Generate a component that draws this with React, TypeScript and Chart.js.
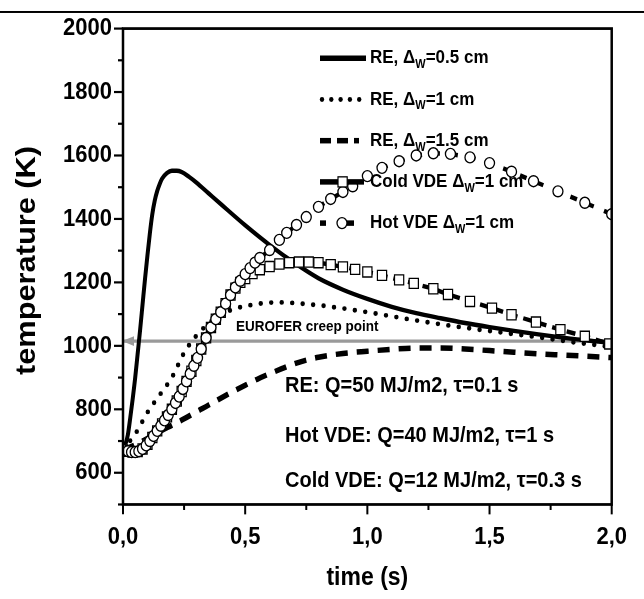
import React, { useEffect, useRef } from "react";
import { Chart, registerables } from "chart.js";

Chart.register(...registerables);

const W = 644;
const H = 599;
const LOGICAL_H = 545;
const FONT = "'Liberation Sans', Arial, Helvetica, sans-serif";

const xTickValues = [0, 0.5, 1, 1.5, 2];
const yTickValues = [600, 800, 1000, 1200, 1400, 1600, 1800, 2000];

const re05Time = [0, 0.01, 0.02, 0.03, 0.04, 0.05, 0.06, 0.07, 0.08, 0.09, 0.1, 0.11, 0.12, 0.13, 0.14, 0.15, 0.16, 0.18, 0.2, 0.22, 0.24, 0.27, 0.3, 0.35, 0.4, 0.5, 0.6, 0.7, 0.8, 0.9, 1.0, 1.1, 1.2, 1.3, 1.4, 1.5, 1.6, 1.7, 1.8, 1.9, 2.0];
const re05Temp = [675, 690, 720, 775, 835, 900, 975, 1050, 1130, 1210, 1285, 1355, 1415, 1458, 1488, 1510, 1527, 1545, 1552, 1552, 1548, 1533, 1515, 1481, 1447, 1380, 1318, 1262, 1213, 1177, 1148, 1123, 1103, 1087, 1072, 1059, 1047, 1036, 1026, 1017, 1010];

const re10Time = [0, 0.05, 0.1, 0.15, 0.2, 0.25, 0.3, 0.35, 0.4, 0.45, 0.5, 0.55, 0.6, 0.65, 0.7, 0.8, 0.9, 1.0, 1.1, 1.2, 1.3, 1.4, 1.5, 1.6, 1.7, 1.8, 1.9, 2.0];
const re10Temp = [675, 722, 790, 845, 900, 978, 1032, 1070, 1098, 1115, 1125, 1132, 1136, 1137, 1135, 1128, 1118, 1106, 1093, 1080, 1068, 1057, 1047, 1037, 1027, 1016, 1006, 996];

const re15Time = [0, 0.05, 0.1, 0.15, 0.2, 0.25, 0.3, 0.35, 0.4, 0.45, 0.5, 0.55, 0.6, 0.65, 0.7, 0.75, 0.8, 0.9, 1.0, 1.1, 1.2, 1.3, 1.4, 1.5, 1.6, 1.7, 1.8, 1.9, 2.0];
const re15Temp = [672, 688, 708, 730, 750, 770, 792, 813, 835, 856, 876, 895, 912, 928, 943, 955, 964, 976, 983, 989, 993, 993, 990, 985, 980, 975, 971, 967, 963];

const coldTime = [0, 0.02, 0.04, 0.06, 0.08, 0.1, 0.12, 0.14, 0.16, 0.18, 0.2, 0.22, 0.24, 0.26, 0.28, 0.3, 0.32, 0.34, 0.36, 0.38, 0.4, 0.42, 0.44, 0.46, 0.48, 0.5, 0.53, 0.56, 0.6, 0.64, 0.68, 0.72, 0.76, 0.8, 0.85, 0.9, 0.95, 1.0, 1.06, 1.13, 1.19, 1.27, 1.33, 1.42, 1.51, 1.59, 1.69, 1.79, 1.89, 1.99];
const coldTemp = [672, 668, 665, 667, 675, 690, 711, 732, 754, 776, 800, 826, 856, 888, 920, 954, 990, 1025, 1058, 1084, 1106, 1133, 1160, 1182, 1200, 1212, 1228, 1240, 1250, 1258, 1262, 1264, 1264, 1262, 1256, 1249, 1241, 1233, 1222, 1208, 1197, 1180, 1162, 1140, 1119, 1098, 1075, 1051, 1030, 1006];

const hotTime = [0, 0.02, 0.035, 0.05, 0.065, 0.08, 0.095, 0.11, 0.125, 0.14, 0.155, 0.17, 0.185, 0.2, 0.215, 0.23, 0.245, 0.26, 0.275, 0.29, 0.305, 0.32, 0.34, 0.36, 0.38, 0.4, 0.42, 0.44, 0.46, 0.48, 0.5, 0.52, 0.54, 0.56, 0.6, 0.64, 0.67, 0.71, 0.75, 0.8, 0.85, 0.9, 0.94, 1.0, 1.06, 1.13, 1.2, 1.27, 1.34, 1.42, 1.5, 1.59, 1.68, 1.78, 1.89, 2.0];
const hotTemp = [672, 668, 665, 665, 668, 675, 686, 700, 716, 732, 748, 765, 782, 800, 820, 840, 864, 888, 912, 937, 962, 990, 1025, 1058, 1084, 1106, 1133, 1160, 1184, 1205, 1226, 1245, 1262, 1277, 1302, 1334, 1356, 1381, 1406, 1438, 1463, 1485, 1503, 1535, 1561, 1582, 1600, 1607, 1605, 1594, 1576, 1549, 1519, 1487, 1451, 1415];

const euroferTime = [0, 2];
const euroferTemp = [1015, 1015];

const legendItems = [
  { pre: "RE, Δ", sub: "W", post: "=0.5 cm" },
  { pre: "RE, Δ", sub: "W", post: "=1 cm" },
  { pre: "RE, Δ", sub: "W", post: "=1.5 cm" },
  { pre: "Cold VDE Δ", sub: "W", post: "=1 cm" },
  { pre: "Hot VDE Δ", sub: "W", post: "=1 cm" },
];
const noteLines = ["RE: Q=50 MJ/m2, τ=0.1 s", "Hot VDE: Q=40 MJ/m2, τ=1 s", "Cold VDE: Q=12 MJ/m2, τ=0.3 s"];
const euroferLabel = "EUROFER creep point";
const xTitle = "time (s)";
const yTitle = "temperature (K)";

const toXY = (xs: number[], ys: number[]) => xs.map((x, i) => ({ x, y: ys[i] }));

const stretchPlugin = {
  id: "stretch",
  beforeDraw(chart: any) {
    const s = chart.canvas.height / chart.height;
    chart.ctx.setTransform(1, 0, 0, s, 0, 0);
  },
};

const decorPlugin = {
  id: "decor",
  afterDraw(chart: any) {
    const ctx = chart.ctx;
    const { left, right, top, bottom } = chart.chartArea;
    const xs = chart.scales.x;
    const ys = chart.scales.y;
    ctx.save();
    // top rule
    ctx.fillStyle = "#000";
    ctx.fillRect(0, 10, W, 1.8);
    // arrowhead of creep line
    const ay = ys.getPixelForValue(euroferTemp[0]);
    ctx.fillStyle = "#9a9a9a";
    ctx.beginPath();
    ctx.moveTo(left - 1, ay);
    ctx.lineTo(left + 11, ay - 4.5);
    ctx.lineTo(left + 11, ay + 4.5);
    ctx.closePath();
    ctx.fill();
    // frame
    ctx.strokeStyle = "#000";
    ctx.lineWidth = 2.5;
    ctx.strokeRect(left, top, right - left, bottom - top);
    // ticks
    ctx.lineWidth = 2;
    for (let i = 0; i <= 8; i++) {
      const v = i * 0.25;
      const px = xs.getPixelForValue(v);
      const len = i % 2 === 0 ? 9 : 5;
      ctx.beginPath();
      ctx.moveTo(px, bottom);
      ctx.lineTo(px, bottom + len);
      ctx.stroke();
    }
    for (let v = 500; v <= 2000; v += 100) {
      const py = ys.getPixelForValue(v);
      const len = v % 200 === 0 ? 9 : 5;
      ctx.beginPath();
      ctx.moveTo(left, py);
      ctx.lineTo(left - len, py);
      ctx.stroke();
    }
    // y axis title
    ctx.save();
    ctx.fillStyle = "#000";
    ctx.font = `bold 28px ${FONT}`;
    ctx.textAlign = "center";
    ctx.textBaseline = "middle";
    ctx.translate(27, 237);
    ctx.rotate(-Math.PI / 2);
    ctx.fillText(yTitle, 0, 0);
    ctx.restore();
    // legend
    const lx0 = 320;
    const lx1 = 366;
    const tx = 370;
    legendItems.forEach((it, i) => {
      const y = 53 + i * 37.5;
      ctx.strokeStyle = "#000";
      ctx.fillStyle = "#000";
      ctx.setLineDash([]);
      if (i === 0) {
        ctx.lineWidth = 5;
        ctx.beginPath();
        ctx.moveTo(lx0, y);
        ctx.lineTo(lx1, y);
        ctx.stroke();
      } else if (i === 1) {
        for (let k = 0; k < 5; k++) {
          ctx.beginPath();
          ctx.arc(lx0 + 2 + k * 9.3, y, 2.2, 0, Math.PI * 2);
          ctx.fill();
        }
      } else if (i === 2) {
        ctx.fillRect(lx0, y - 2.5, 11, 5);
        ctx.fillRect(lx0 + 17, y - 2.5, 11, 5);
        ctx.fillRect(lx0 + 34, y - 2.5, 5, 5);
      } else if (i === 3) {
        ctx.fillRect(lx0, y - 2.5, lx1 - lx0 - 2, 5);
        ctx.fillStyle = "#fff";
        ctx.fillRect(lx0 + 18, y - 4.6, 9.2, 9.2);
        ctx.lineWidth = 1.2;
        ctx.strokeRect(lx0 + 18, y - 4.6, 9.2, 9.2);
      } else {
        ctx.fillRect(lx0, y - 2.5, 6, 5);
        ctx.fillRect(lx0 + 27, y - 2.5, 7, 5);
        ctx.beginPath();
        ctx.arc(lx0 + 22, y, 5, 0, Math.PI * 2);
        ctx.fillStyle = "#fff";
        ctx.fill();
        ctx.lineWidth = 1.3;
        ctx.stroke();
      }
      ctx.fillStyle = "#000";
      ctx.textBaseline = "middle";
      ctx.textAlign = "left";
      ctx.font = `bold 17px ${FONT}`;
      let x = tx;
      ctx.fillText(it.pre, x, y);
      x += ctx.measureText(it.pre).width;
      ctx.font = `bold 11px ${FONT}`;
      ctx.fillText(it.sub, x, y + 6);
      x += ctx.measureText(it.sub).width;
      ctx.font = `bold 17px ${FONT}`;
      ctx.fillText(it.post, x, y);
    });
    // creep point label
    ctx.font = `bold 13.5px ${FONT}`;
    ctx.fillStyle = "#000";
    ctx.textBaseline = "middle";
    ctx.textAlign = "left";
    ctx.fillText(euroferLabel, 236, 297.5);
    // notes
    ctx.font = `bold 20px ${FONT}`;
    const noteY = [351, 397, 438];
    noteLines.forEach((t, i) => ctx.fillText(t, 285, noteY[i]));
    ctx.restore();
  },
};

export default function App() {
  const ref = useRef<HTMLCanvasElement | null>(null);
  useEffect(() => {
    const canvas = ref.current;
    if (!canvas) return;
    const tickFont = { family: FONT, size: 22, weight: "bold" as const };
    const chart = new Chart(canvas, {
      type: "line",
      data: {
        datasets: [
          {
            label: "Hot VDE",
            data: toXY(hotTime, hotTemp),
            borderColor: "#000",
            borderWidth: 4,
            borderDash: [7, 11],
            pointStyle: "circle",
            pointRadius: 5,
            pointBackgroundColor: "#fff",
            pointBorderColor: "#000",
            pointBorderWidth: 1.3,
            tension: 0,
          },
          {
            label: "Cold VDE",
            data: toXY(coldTime, coldTemp),
            borderColor: "#000",
            borderWidth: 4,
            borderDash: [9, 6],
            pointStyle: "rect",
            pointRadius: 6.5,
            pointBackgroundColor: "#fff",
            pointBorderColor: "#000",
            pointBorderWidth: 1.2,
            tension: 0,
          },
          {
            label: "RE 0.5",
            data: toXY(re05Time, re05Temp),
            borderColor: "#000",
            borderWidth: 4,
            pointRadius: 0,
            cubicInterpolationMode: "monotone",
          },
          {
            label: "RE 1",
            data: toXY(re10Time, re10Temp),
            borderColor: "#000",
            borderWidth: 4.5,
            borderDash: [0, 10.5],
            borderCapStyle: "round",
            pointRadius: 0,
            cubicInterpolationMode: "monotone",
          },
          {
            label: "RE 1.5",
            data: toXY(re15Time, re15Temp),
            borderColor: "#000",
            borderWidth: 5,
            borderDash: [12, 9],
            pointRadius: 0,
            cubicInterpolationMode: "monotone",
          },
          {
            label: "EUROFER",
            data: toXY(euroferTime, euroferTemp),
            borderColor: "#9a9a9a",
            borderWidth: 3,
            pointRadius: 0,
          },
        ],
      },
      options: {
        animation: false,
        responsive: false,
        devicePixelRatio: 1,
        layout: { padding: { top: 26, right: 25, left: 0, bottom: 0 } },
        plugins: { legend: { display: false }, tooltip: { enabled: false } },
        scales: {
          x: {
            type: "linear",
            min: 0,
            max: 2,
            afterFit: (s: any) => {
              s.height = 86;
            },
            afterBuildTicks: (s: any) => {
              s.ticks = xTickValues.map((v) => ({ value: v }));
            },
            grid: { display: false, drawTicks: false },
            border: { display: false },
            ticks: {
              font: tickFont,
              color: "#000",
              padding: 17,
              maxRotation: 0,
              autoSkip: false,
              callback: (v: any) => Number(v).toFixed(1).replace(".", ","),
            },
            title: {
              display: true,
              text: xTitle,
              color: "#000",
              font: { family: FONT, size: 23, weight: "bold" },
              padding: { top: 0, bottom: 5 },
            },
          },
          y: {
            type: "linear",
            min: 500,
            max: 2000,
            afterFit: (s: any) => {
              s.width = 123;
            },
            afterBuildTicks: (s: any) => {
              s.ticks = yTickValues.map((v) => ({ value: v }));
            },
            grid: { display: false, drawTicks: false },
            border: { display: false },
            ticks: {
              font: tickFont,
              color: "#000",
              padding: 11,
              autoSkip: false,
              callback: (v: any) => String(v),
            },
            title: { display: false },
          },
        },
      },
      plugins: [stretchPlugin, decorPlugin],
    } as any);
    canvas.height = H;
    canvas.style.height = H + "px";
    chart.draw();
    return () => {
      chart.destroy();
    };
  }, []);
  return (
    <div style={{ position: "absolute", left: 0, top: 0, width: W, height: H, background: "#fff" }}>
      <canvas ref={ref} width={W} height={LOGICAL_H} style={{ display: "block" }} />
    </div>
  );
}
